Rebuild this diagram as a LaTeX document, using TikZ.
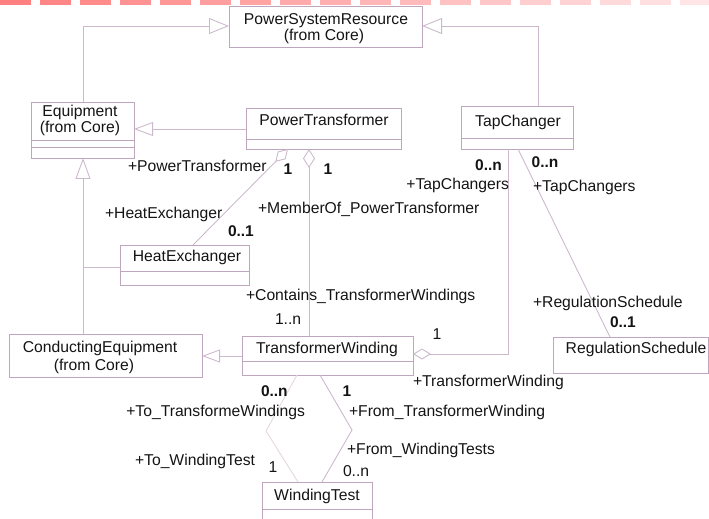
\documentclass[tikz,border=0pt]{standalone}
\usepackage{fontspec}
\setmainfont{Liberation Sans}
\usetikzlibrary{arrows.meta}
\definecolor{umlline}{RGB}{204,186,204}
\definecolor{umlbox}{RGB}{190,166,190}
\definecolor{umlfaint}{RGB}{226,215,226}
\definecolor{ink}{RGB}{20,20,20}

\begin{document}
\begin{tikzpicture}[x=1bp,y=-1bp,
  box/.style={draw=umlbox, line width=0.9bp, inner sep=0, outer sep=0, anchor=north west},
  cmp/.style={draw=umlbox, line width=0.9bp},
  txt/.style={inner sep=0, outer sep=0, text=ink, font=\fontsize{15.7bp}{18bp}\selectfont},
  lbl/.style={txt, anchor=base west},
  rgt/.style={txt, anchor=base east},
  ctr/.style={txt, anchor=base},
  bold/.style={font=\fontsize{15.5bp}{18bp}\selectfont\bfseries},
  assoc/.style={draw=umlline, line width=0.9bp},
  faint/.style={draw=umlfaint, line width=0.9bp},
  gen/.style={assoc, -{Triangle[open, length=20bp, width=16bp]}},
  gensmall/.style={assoc, -{Triangle[open, length=19bp, width=14bp]}},
  agg/.style={assoc, {Diamond[open, length=18bp, width=11bp]}-},
]
\useasboundingbox (0,0) rectangle (709,519);

% dashed banner along the top edge, fading out to the right
\foreach \k in {0,...,17}{
  \pgfmathsetmacro\shade{50-\k*40/17}
  \fill[red!\shade!white] (\k*40,0) rectangle (\k*40+31,5.5);
}

% class boxes
\node[box, minimum width=193bp, minimum height=41bp] (psr) at (229,6) {};
\node[box, minimum width=103bp, minimum height=56bp] (equip) at (31,102) {};
\node[box, minimum width=155bp, minimum height=41bp] (pt) at (246,108) {};
\node[box, minimum width=112bp, minimum height=43bp] (tc) at (461,106) {};
\node[box, minimum width=129bp, minimum height=40bp] (he) at (120,245) {};
\node[box, minimum width=193bp, minimum height=43bp] (ce) at (9,334) {};
\node[box, minimum width=171bp, minimum height=39bp] (tw) at (242,336) {};
\node[box, minimum width=155bp, minimum height=36bp] (rs) at (553,337) {};
\node[box, minimum width=110bp, minimum height=45bp] (wt) at (262,482) {};

% compartment separators
\draw[cmp] (equip.west |- 0,140) -- (equip.east |- 0,140);
\draw[cmp] (equip.west |- 0,147) -- (equip.east |- 0,147);
\draw[cmp] (pt.west |- 0,139) -- (pt.east |- 0,139);
\draw[cmp] (tc.west |- 0,138) -- (tc.east |- 0,138);
\draw[cmp] (he.west |- 0,271) -- (he.east |- 0,271);
\draw[cmp] (tw.west |- 0,361) -- (tw.east |- 0,361);
\draw[cmp] (wt.west |- 0,509) -- (wt.east |- 0,509);

% class names
\node[ctr] (psr-n) at (326,25) {PowerSystemResource};
\node[ctr] (psr-f) at (324,41) {(from Core)};
\node[ctr] (eq-n) at (80,117) {Equipment};
\node[ctr] (eq-f) at (80,133) {(from Core)};
\node[ctr] (pt-n) at (324,126) {PowerTransformer};
\node[ctr] (tc-n) at (518,126.5) {TapChanger};
\node[ctr] (he-n) at (187,262) {HeatExchanger};
\node[ctr] (ce-n) at (100,352) {ConductingEquipment};
\node[ctr] (ce-f) at (94,370) {(from Core)};
\node[ctr] (tw-n) at (327,353) {TransformerWinding};
\node[ctr] (rs-n) at (636,353) {RegulationSchedule};
\node[ctr] (wt-n) at (317,500) {WindingTest};

% bend points and attachment columns
\coordinate (jl) at (83,26);
\coordinate (jr) at (538,26);
\coordinate (jpe) at (0,129);
\coordinate (jv) at (83,267);
\coordinate (jtc) at (0,356);
\coordinate (xa) at (288,0);
\coordinate (xb) at (193,0);
\coordinate (xc) at (309,0);
\coordinate (xd) at (508,354);
\coordinate (xe) at (518,0);
\coordinate (xf) at (610,0);
\coordinate (xg) at (297,0);
\coordinate (p1) at (266,431);
\coordinate (xh) at (298,0);
\coordinate (xi) at (320,0);
\coordinate (p2) at (352,430);
\coordinate (xj) at (322,0);

% generalizations
\draw[gen] (equip.north -| jl) -- (jl) -- (psr.west |- jl);
\draw[gen] (tc.north -| jr) -- (jr) -- (psr.east |- jr);
\draw[gensmall] (pt.west |- jpe) -- (equip.east |- jpe);
\draw[assoc, -{Triangle[open, length=21bp, width=15bp]}] (ce.north -| jv) -- (equip.south -| jv);
\draw[assoc] (he.west |- jv) -- (jv);
\draw[assoc, -{Triangle[open, length=18bp, width=13bp]}] (tw.west |- jtc) -- (ce.east |- jtc);

% associations and aggregations
\draw[agg] (pt.south -| xa) -- (he.north -| xb);
\draw[assoc, {Diamond[open, length=19bp, width=12bp]}-] (pt.south -| xc) -- (tw.north -| xc);
\draw[agg] (tw.east |- xd) -- (xd) -- (tc.south -| xd);
\draw[assoc] (tc.south -| xe) -- (rs.north -| xf);
\draw[faint] (tw.south -| xg) -- (p1) -- (wt.north -| xh);
\draw[assoc] (tw.south -| xi) -- (p2) -- (wt.north -| xj);

% role names and multiplicities
\node[lbl] (l1) at (128,172) {+PowerTransformer};
\node[ctr,bold] (m1) at (288,175) {1};
\node[ctr,bold] (m2) at (328,175) {1};
\node[ctr,bold] (m3) at (488.5,171) {0..n};
\node[rgt] (l2) at (509,190) {+TapChangers};
\node[ctr,bold] (m4) at (545,168) {0..n};
\node[lbl] (l3) at (533,192) {+TapChangers};
\node[lbl] (l4) at (105,219) {+HeatExchanger};
\node[lbl] (l5) at (258,214) {+MemberOf\_PowerTransformer};
\node[lbl,bold] (m5) at (228,237) {0..1};
\node[lbl] (l6) at (246,300) {+Contains\_TransformerWindings};
\node[lbl] (m6) at (275,324) {1..n};
\node[ctr] (m7) at (437,339) {1};
\node[lbl] (l7) at (413,386) {+TransformerWinding};
\node[lbl] (l8) at (533,307) {+RegulationSchedule};
\node[lbl,bold] (m8) at (610,327) {0..1};
\node[lbl,bold] (m9) at (261,396) {0..n};
\node[ctr,bold] (m10) at (347,396) {1};
\node[rgt] (l9) at (305,416) {+To\_TransformeWindings};
\node[lbl] (l10) at (349,416) {+From\_TransformerWinding};
\node[lbl] (l11) at (347,454) {+From\_WindingTests};
\node[lbl] (l12) at (135,465) {+To\_WindingTest};
\node[ctr] (m11) at (273,472) {1};
\node[lbl] (m12) at (343,476) {0..n};
\end{tikzpicture}
\end{document}
